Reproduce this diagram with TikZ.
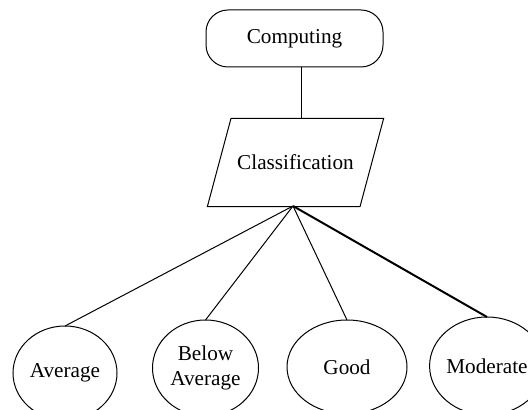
\documentclass[tikz,border=0pt]{standalone}
\usepackage{fontspec}
\setmainfont{Liberation Serif}
\usetikzlibrary{shapes.geometric}
\tikzset{
    boxnode/.style={align=center,inner sep=0pt,outer sep=0pt,draw=black,line width=0.5pt},
    termnode/.style={boxnode,rectangle,rounded corners=11pt,minimum width=88.5pt,minimum height=28.5pt},
    datanode/.style={boxnode,trapezium,trapezium left angle=75,trapezium right angle=105,text width=64.5pt,inner xsep=0pt,inner ysep=18.3pt},
    leafnode/.style={boxnode,ellipse},
    link/.style={draw=black,line width=0.5pt},
    thicklink/.style={draw=black,line width=1pt}
}

\begin{document}
\begin{tikzpicture}[x=0.5pt,y=-0.5pt,font=\fontsize{10.6}{12.5}\selectfont]
\useasboundingbox (0,0) rectangle (528,410);

\node[termnode] (COMP) at (294.5,38.5) {Computing};
\node[datanode] (CLS)  at (295.5,162.5) {Classification};
\coordinate (APEX) at (293,206);

\node[leafnode,minimum width=52pt,minimum height=47pt] (AVG)  at (65,373)  {Average};
\node[leafnode,minimum width=53pt,minimum height=48pt] (BAVG) at (205.5,368) {Below\\Average};
\node[leafnode,minimum width=60pt,minimum height=47pt] (GOOD) at (347,367) {Good};
\node[leafnode,minimum width=57pt,minimum height=49pt] (MOD)  at (487,366) {Moderate};

\path
(COMP.south -| 301,0) edge[link] (CLS.north -| 301,0)
(APEX) edge[link]      (AVG.north)
       edge[link]      (BAVG.north)
       edge[link]      (GOOD.north)
       edge[thicklink] (MOD.north)
;
\end{tikzpicture}
\end{document}
